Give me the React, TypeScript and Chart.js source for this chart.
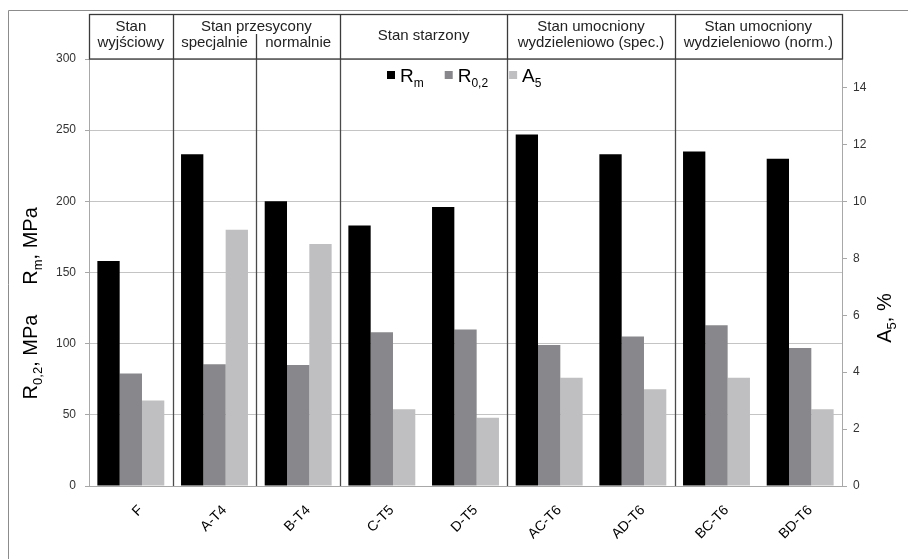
import React, { useEffect, useRef } from "react";
import { Chart, registerables } from "chart.js";

Chart.register(...registerables);

const FONT = "'Liberation Sans', Arial, sans-serif";

const categories = ["F", "A-T4", "B-T4", "C-T5", "D-T5", "AC-T6", "AD-T6", "BC-T6", "BD-T6"];
const rmValues = [158, 233, 200, 183, 196, 247, 233, 235, 230];
const r02Values = [79, 85.5, 85, 108, 110, 99, 105, 113, 97];
const a5Values = [3.0, 9.0, 8.5, 2.7, 2.4, 3.8, 3.4, 3.8, 2.7];

const leftMin = 0;
const leftMax = 300;
const leftStep = 50;
const rightMin = 0;
const rightMax = 15;
const rightStep = 2;

// header groups: first/last category index, lines of title, optional sub-labels per category
const headerGroups = [
  { from: 0, to: 0, lines: ["Stan", "wyjściowy"], subs: null as string[] | null },
  { from: 1, to: 2, lines: ["Stan przesycony"], subs: ["specjalnie", "normalnie"] },
  { from: 3, to: 4, lines: ["Stan starzony"], subs: null },
  { from: 5, to: 6, lines: ["Stan umocniony", "wydzieleniowo (spec.)"], subs: null },
  { from: 7, to: 8, lines: ["Stan umocniony", "wydzieleniowo (norm.)"], subs: null },
];

const seriesColors = ["#000000", "#88888c", "#bfbfc1"];
const legendItems = [
  { main: "R", sub: "m" },
  { main: "R", sub: "0,2" },
  { main: "A", sub: "5" },
];

type Part = [string, number, number];

function richWidth(ctx: CanvasRenderingContext2D, parts: Part[]) {
  let w = 0;
  for (const [t, s] of parts) {
    ctx.font = `${s}px ${FONT}`;
    w += ctx.measureText(t).width;
  }
  return w;
}

function drawRich(ctx: CanvasRenderingContext2D, parts: Part[], x: number, y: number, align: "left" | "center") {
  const total = richWidth(ctx, parts);
  let cx = align === "center" ? x - total / 2 : x;
  ctx.textAlign = "left";
  ctx.textBaseline = "alphabetic";
  for (const [t, s, dy] of parts) {
    ctx.font = `${s}px ${FONT}`;
    ctx.fillText(t, cx, y + dy);
    cx += ctx.measureText(t).width;
  }
  return total;
}

function drawRotated(ctx: CanvasRenderingContext2D, parts: Part[], baseX: number, centerY: number) {
  ctx.save();
  ctx.translate(baseX, centerY);
  ctx.rotate(-Math.PI / 2);
  drawRich(ctx, parts, 0, 0, "center");
  ctx.restore();
}

const overlayPlugin = {
  id: "overlay",
  beforeDatasetsDraw(chart: any) {
    const ctx: CanvasRenderingContext2D = chart.ctx;
    const x = chart.scales.x;
    const area = chart.chartArea;
    const boundary = (i: number) => (x.getPixelForValue(i) + x.getPixelForValue(i + 1)) / 2;
    ctx.save();
    ctx.strokeStyle = "#4a4a4a";
    ctx.lineWidth = 1.3;
    for (const g of headerGroups) {
      if (g.to < categories.length - 1) {
        const bx = Math.round(boundary(g.to)) + 0.5;
        ctx.beginPath();
        ctx.moveTo(bx, area.top);
        ctx.lineTo(bx, area.bottom);
        ctx.stroke();
      }
      if (g.subs) {
        for (let i = g.from; i < g.to; i++) {
          const bx = Math.round(boundary(i)) + 0.5;
          ctx.beginPath();
          ctx.moveTo(bx, area.top);
          ctx.lineTo(bx, area.bottom);
          ctx.stroke();
        }
      }
    }
    ctx.restore();
  },
  afterDraw(chart: any) {
    const ctx: CanvasRenderingContext2D = chart.ctx;
    const x = chart.scales.x;
    const area = chart.chartArea;
    const boundary = (i: number) => (x.getPixelForValue(i) + x.getPixelForValue(i + 1)) / 2;
    const leftOf = (i: number) => (i === 0 ? area.left : boundary(i - 1));
    const rightOf = (i: number) => (i === categories.length - 1 ? area.right : boundary(i));
    const hTop = 14.5;
    const hBottom = area.top;

    ctx.save();
    // outer frame
    ctx.strokeStyle = "#8c8c8c";
    ctx.lineWidth = 1;
    ctx.beginPath();
    ctx.moveTo(8.5, 559);
    ctx.lineTo(8.5, 10.5);
    ctx.lineTo(908, 10.5);
    ctx.stroke();

    // header box
    ctx.strokeStyle = "#3a3a3a";
    ctx.lineWidth = 1.3;
    ctx.strokeRect(Math.round(area.left) + 0.5, hTop, Math.round(area.right - area.left), hBottom - hTop);
    for (const g of headerGroups) {
      if (g.to < categories.length - 1) {
        const bx = Math.round(boundary(g.to)) + 0.5;
        ctx.beginPath();
        ctx.moveTo(bx, hTop);
        ctx.lineTo(bx, hBottom);
        ctx.stroke();
      }
      if (g.subs) {
        for (let i = g.from; i < g.to; i++) {
          const bx = Math.round(boundary(i)) + 0.5;
          ctx.beginPath();
          ctx.moveTo(bx, 34);
          ctx.lineTo(bx, hBottom);
          ctx.stroke();
        }
      }
    }

    // header text
    ctx.fillStyle = "#222";
    ctx.font = `15px ${FONT}`;
    ctx.textAlign = "center";
    ctx.textBaseline = "alphabetic";
    for (const g of headerGroups) {
      const cx = (leftOf(g.from) + rightOf(g.to)) / 2;
      if (g.subs) {
        ctx.fillText(g.lines[0], cx, 31);
        g.subs.forEach((s, k) => {
          const i = g.from + k;
          ctx.fillText(s, (leftOf(i) + rightOf(i)) / 2, 47);
        });
      } else if (g.lines.length === 2) {
        ctx.fillText(g.lines[0], cx, 31);
        ctx.fillText(g.lines[1], cx, 47);
      } else {
        ctx.fillText(g.lines[0], cx, 40);
      }
    }

    // legend
    let cursor = 387;
    legendItems.forEach((it, k) => {
      ctx.fillStyle = seriesColors[k];
      ctx.fillRect(cursor, 71, 8, 8);
      ctx.fillStyle = "#000";
      const w = drawRich(ctx, [[it.main, 19, 0], [it.sub, 12, 5]], cursor + 13, 82, "left");
      cursor += 13 + w + 21;
    });

    // axis titles
    ctx.fillStyle = "#000";
    drawRotated(ctx, [["R", 20, 0], ["m", 13, 5], [", MPa", 20, 0]], 37, 246);
    drawRotated(ctx, [["R", 20, 0], ["0,2", 13, 5], [", MPa", 20, 0]], 37, 357);
    drawRotated(ctx, [["A", 20, 0], ["5", 13, 5], [", %", 20, 0]], 891, 318);
    ctx.restore();
  },
};

export default function App() {
  const ref = useRef<HTMLCanvasElement | null>(null);
  useEffect(() => {
    if (!ref.current) return;
    const chart = new Chart(ref.current, {
      type: "bar",
      data: {
        labels: categories,
        datasets: [
          { label: "Rm", data: rmValues, backgroundColor: seriesColors[0], yAxisID: "y" },
          { label: "R0,2", data: r02Values, backgroundColor: seriesColors[1], yAxisID: "y" },
          { label: "A5", data: a5Values, backgroundColor: seriesColors[2], yAxisID: "y2" },
        ],
      },
      options: {
        responsive: false,
        animation: false,
        layout: { padding: { top: 59, left: 0, right: 0, bottom: 0 } },
        plugins: { legend: { display: false }, tooltip: { enabled: false }, title: { display: false } },
        datasets: { bar: { categoryPercentage: 0.8, barPercentage: 1.0 } },
        scales: {
          x: {
            grid: { display: false, drawTicks: false },
            border: { color: "#a8a8a8" },
            ticks: {
              color: "#000",
              font: { family: FONT, size: 14 },
              minRotation: 45,
              maxRotation: 45,
              padding: 16,
              labelOffset: 10,
            },
            afterFit(s: any) {
              s.height = 73;
            },
          },
          y: {
            position: "left",
            min: leftMin,
            max: leftMax,
            ticks: { stepSize: leftStep, color: "#333", font: { family: FONT, size: 12 }, padding: 9 },
            grid: { color: "#c4c4c4", tickLength: 4, tickColor: "#a8a8a8" },
            border: { color: "#a8a8a8" },
            afterFit(s: any) {
              s.width = 89;
            },
          },
          y2: {
            position: "right",
            min: rightMin,
            max: rightMax,
            ticks: { stepSize: rightStep, color: "#333", font: { family: FONT, size: 12 }, padding: 6 },
            grid: { drawOnChartArea: false, tickLength: 5, tickColor: "#a8a8a8" },
            border: { color: "#a8a8a8" },
            afterBuildTicks(s: any) {
              s.ticks = s.ticks.filter((t: any) => t.value % rightStep === 0);
            },
            afterFit(s: any) {
              s.width = 66;
            },
          },
        },
      },
      plugins: [overlayPlugin],
    });
    return () => chart.destroy();
  }, []);
  return (
    <div style={{ position: "absolute", left: 0, top: 0, width: 908, height: 559, background: "#fff" }}>
      <canvas ref={ref} width={908} height={559} style={{ display: "block" }} />
    </div>
  );
}
